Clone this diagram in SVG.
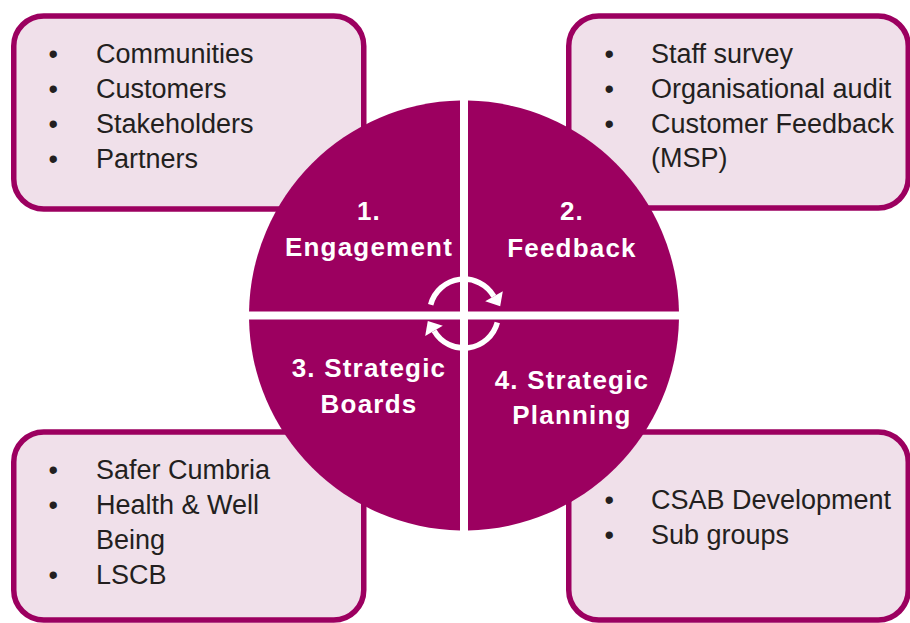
<svg xmlns="http://www.w3.org/2000/svg" width="910" height="623" viewBox="0 0 910 623">
  <style>
    .box { fill: #F0E0EA; stroke: #9C0060; stroke-width: 5.5; }
    .quad { fill: #9C0060; }
    .item { font-family: "Liberation Sans", Arial, sans-serif; font-size: 27px; fill: #231F20; }
    .label { font-family: "Liberation Sans", Arial, sans-serif; font-size: 26px; font-weight: bold; fill: #FFFFFF; text-anchor: middle; letter-spacing: 1.2px; }
    .cycle { fill: none; stroke: #FFFFFF; stroke-width: 5.5; stroke-linecap: butt; }
    .head { fill: #FFFFFF; }
  </style>
  <rect width="910" height="623" fill="#FFFFFF"/>

  <g id="box-engagement">
    <rect class="box" x="13.75" y="16" width="350" height="193" rx="30"/>
    <text class="item"><tspan x="48.5" y="63">•</tspan><tspan x="96" y="63">Communities</tspan></text>
    <text class="item"><tspan x="48.5" y="98">•</tspan><tspan x="96" y="98">Customers</tspan></text>
    <text class="item"><tspan x="48.5" y="133">•</tspan><tspan x="96" y="133">Stakeholders</tspan></text>
    <text class="item"><tspan x="48.5" y="168">•</tspan><tspan x="96" y="168">Partners</tspan></text>
  </g>

  <g id="box-feedback">
    <rect class="box" x="568.75" y="16" width="339.5" height="192" rx="30"/>
    <text class="item"><tspan x="604.5" y="63">•</tspan><tspan x="651" y="63">Staff survey</tspan></text>
    <text class="item"><tspan x="604.5" y="98">•</tspan><tspan x="651" y="98">Organisational audit</tspan></text>
    <text class="item"><tspan x="604.5" y="133">•</tspan><tspan x="651" y="133">Customer Feedback</tspan></text>
    <text class="item"><tspan x="651" y="167">(MSP)</tspan></text>
  </g>

  <g id="box-boards">
    <rect class="box" x="13.75" y="432" width="350" height="188" rx="30"/>
    <text class="item"><tspan x="48.5" y="479">•</tspan><tspan x="96" y="479">Safer Cumbria</tspan></text>
    <text class="item"><tspan x="48.5" y="514">•</tspan><tspan x="96" y="514">Health &amp; Well</tspan></text>
    <text class="item"><tspan x="96" y="549">Being</tspan></text>
    <text class="item"><tspan x="48.5" y="584">•</tspan><tspan x="96" y="584">LSCB</tspan></text>
  </g>

  <g id="box-planning">
    <rect class="box" x="568.75" y="432" width="339.5" height="188" rx="30"/>
    <text class="item"><tspan x="604.5" y="509">•</tspan><tspan x="651" y="509">CSAB Development</tspan></text>
    <text class="item"><tspan x="604.5" y="544">•</tspan><tspan x="651" y="544">Sub groups</tspan></text>
  </g>

  <g id="quadrant-engagement">
    <path class="quad" d="M460,311.5 L460,100.54 A215,215 0 0 0 249.04,311.5 Z"/>
    <text class="label" x="369" y="220">1.</text>
    <text class="label" x="369" y="256">Engagement</text>
  </g>

  <g id="quadrant-feedback">
    <path class="quad" d="M468,311.5 L468,100.54 A215,215 0 0 1 678.96,311.5 Z"/>
    <text class="label" x="572" y="220">2.</text>
    <text class="label" x="572" y="257">Feedback</text>
  </g>

  <g id="quadrant-boards">
    <path class="quad" d="M460,319.5 L249.04,319.5 A215,215 0 0 0 460,530.46 Z"/>
    <text class="label" x="369" y="377">3. Strategic</text>
    <text class="label" x="369" y="413">Boards</text>
  </g>

  <g id="quadrant-planning">
    <path class="quad" d="M468,319.5 L468,530.46 A215,215 0 0 0 678.96,319.5 Z"/>
    <text class="label" x="572" y="389">4. Strategic</text>
    <text class="label" x="572" y="424">Planning</text>
  </g>

  <g id="connectors">
    <path class="cycle" d="M430.68,304.67 A34.5,34.5 0 0 1 493.88,296.35"/>
    <polygon class="head" points="502.8,291.2 485.2,301.35 500.2,306.2"/>
    <path class="cycle" d="M497.32,322.53 A34.5,34.5 0 0 1 434.12,330.85"/>
    <polygon class="head" points="425.2,336 442.8,325.85 427.8,321"/>
  </g>
</svg>
